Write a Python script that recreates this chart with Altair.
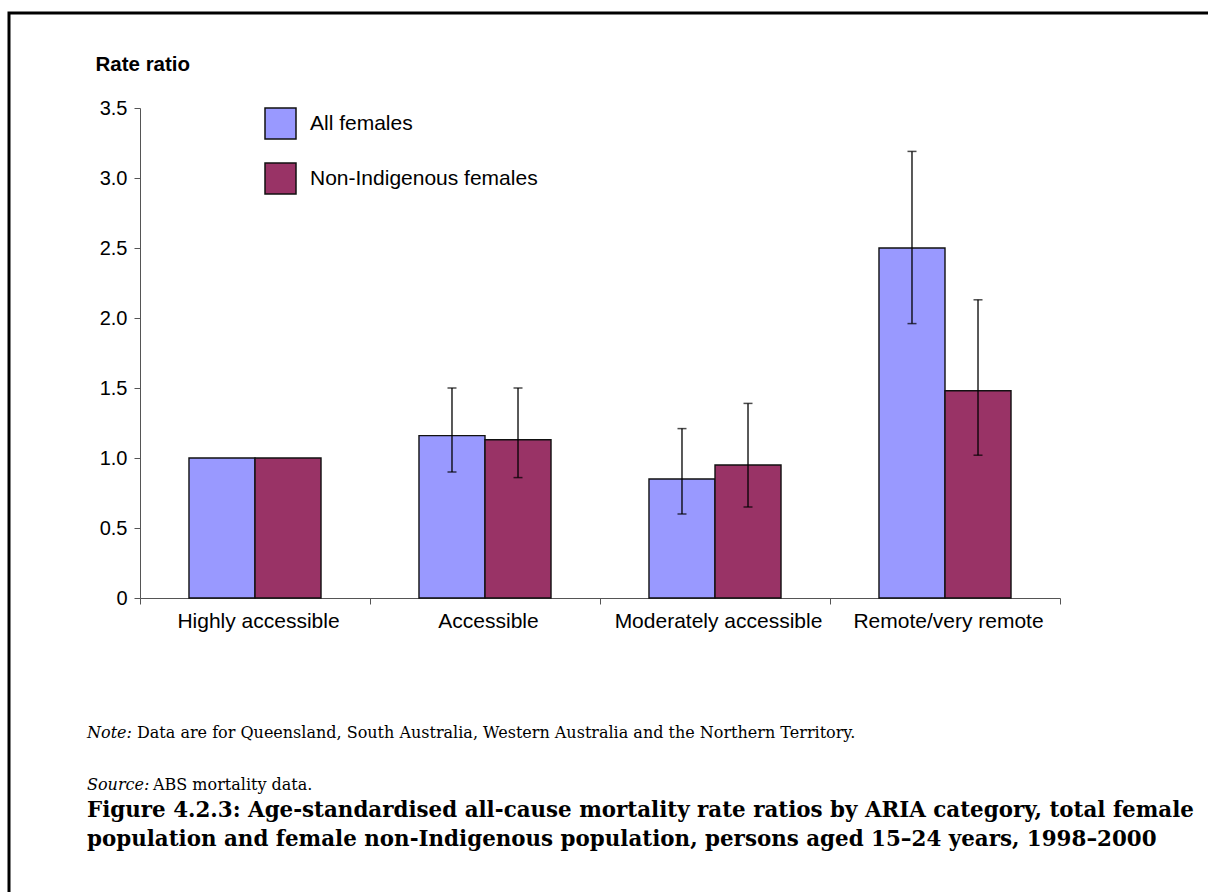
import altair as alt
import pandas as pd

# ARIA remoteness categories and age-standardised rate ratios (with 95% CIs)
categories = ["Highly accessible", "Accessible", "Moderately accessible", "Remote/very remote"]
series_names = ["All females", "Non-Indigenous females"]

all_females = [1.00, 1.16, 0.85, 2.50]
all_lower = [None, 0.90, 0.60, 1.96]
all_upper = [None, 1.50, 1.21, 3.19]

non_indigenous = [1.00, 1.13, 0.95, 1.48]
non_lower = [None, 0.86, 0.65, 1.02]
non_upper = [None, 1.50, 1.39, 2.13]

y_ticks = [0, 0.5, 1.0, 1.5, 2.0, 2.5, 3.0, 3.5]
colors = ["#9999FF", "#993366"]

rows = []
for name, vals, los, his in [
    (series_names[0], all_females, all_lower, all_upper),
    (series_names[1], non_indigenous, non_lower, non_upper),
]:
    for cat, v, lo, hi in zip(categories, vals, los, his):
        rows.append({"category": cat, "series": name, "ratio": v, "lower": lo, "upper": hi})
df = pd.DataFrame(rows)
ci = df.dropna(subset=["lower"])

W, H = 920, 490
SANS = "Liberation Sans"
SERIF = "DejaVu Serif"

x_enc = alt.X(
    "category:N",
    sort=categories,
    scale=alt.Scale(domain=categories, paddingInner=0, paddingOuter=0),
    axis=alt.Axis(
        title=None, labelAngle=0, labelFontSize=21, labelFont=SANS, labelColor="black",
        labelLimit=0, labelOffset=3, tickBand="extent", tickSize=6, tickColor="#555555",
        domainColor="#555555", labelPadding=6,
    ),
)
off_enc = alt.XOffset(
    "series:N", sort=series_names,
    scale=alt.Scale(domain=series_names, paddingInner=0, paddingOuter=0.742),
)
y_scale = alt.Scale(domain=[0, 3.5], nice=False, zero=True)

bars = alt.Chart(df).mark_bar(stroke="#111111", strokeWidth=1.4).encode(
    x=x_enc,
    xOffset=off_enc,
    y=alt.Y(
        "ratio:Q",
        scale=y_scale,
        axis=alt.Axis(
            values=y_ticks, grid=False, title="Rate ratio",
            labelExpr="datum.value == 0 ? '0' : format(datum.value, '.1f')",
            labelFontSize=20, labelFont=SANS, labelColor="black", labelPadding=7,
            tickSize=6, tickColor="#555555", domainColor="#555555",
            titleAngle=0, titleAlign="left", titleBaseline="middle",
            titleX=-45, titleY=-44, titleFont=SANS, titleFontSize=20.5,
            titleFontWeight="bold", titleColor="black",
        ),
    ),
    color=alt.Color(
        "series:N", sort=series_names,
        scale=alt.Scale(domain=series_names, range=colors),
        legend=alt.Legend(
            title=None, orient="none", legendX=124, legendY=-1,
            symbolType="square", symbolSize=961, symbolStrokeColor="#111111",
            symbolStrokeWidth=1.5, symbolOpacity=1, labelFontSize=21, labelFont=SANS,
            labelColor="black", labelLimit=0, rowPadding=18, labelOffset=13,
        ),
    ),
)

whiskers = alt.Chart(ci).mark_rule(color="black", strokeWidth=1.3).encode(
    x=alt.X("category:N", sort=categories), xOffset=off_enc,
    y=alt.Y("lower:Q", scale=y_scale), y2="upper:Q",
)
cap_lo = alt.Chart(ci).mark_tick(color="black", orient="horizontal", size=9, thickness=1.5).encode(
    x=alt.X("category:N", sort=categories), xOffset=off_enc,
    y=alt.Y("lower:Q", scale=y_scale),
)
cap_hi = alt.Chart(ci).mark_tick(color="black", orient="horizontal", size=9, thickness=1.5).encode(
    x=alt.X("category:N", sort=categories), xOffset=off_enc,
    y=alt.Y("upper:Q", scale=y_scale),
)

one = alt.Data(values=[{}])

# page frame drawn around the figure (positions relative to the plot origin)
frame = alt.Chart(one).mark_rect(fill=None, stroke="black", strokeWidth=3).encode(
    x=alt.value(-131), x2=alt.value(1080), y=alt.value(-95), y2=alt.value(800),
)


def label(text, x, y, size, font=SERIF, style="normal", weight="normal"):
    return alt.Chart(one).mark_text(
        text=text, align="left", baseline="alphabetic", font=font,
        fontSize=size, fontStyle=style, fontWeight=weight, color="black",
    ).encode(x=alt.value(x), y=alt.value(y))


notes = [
    label("Note:", -53, 630, 16, style="italic"),
    label("Data are for Queensland, South Australia, Western Australia and the Northern Territory.", -3, 630, 16),
    label("Source:", -53, 682, 16, style="italic"),
    label("ABS mortality data.", 13, 682, 16),
    label("Figure 4.2.3: Age-standardised all-cause mortality rate ratios by ARIA category, total female",
          -53, 709, 21.4, weight="bold"),
    label("population and female non-Indigenous population, persons aged 15\u201324 years, 1998\u20132000",
          -53, 738, 21.4, weight="bold"),
]

chart = alt.layer(frame, bars, whiskers, cap_lo, cap_hi, *notes).properties(
    width=W, height=H,
    padding={"left": 140, "top": 108, "right": 148, "bottom": 294},
    autosize=alt.AutoSizeParams(type="none"),
    background="white",
).configure_view(stroke=None)

chart.save("out.html", embed_options={"renderer": "svg", "actions": False})
